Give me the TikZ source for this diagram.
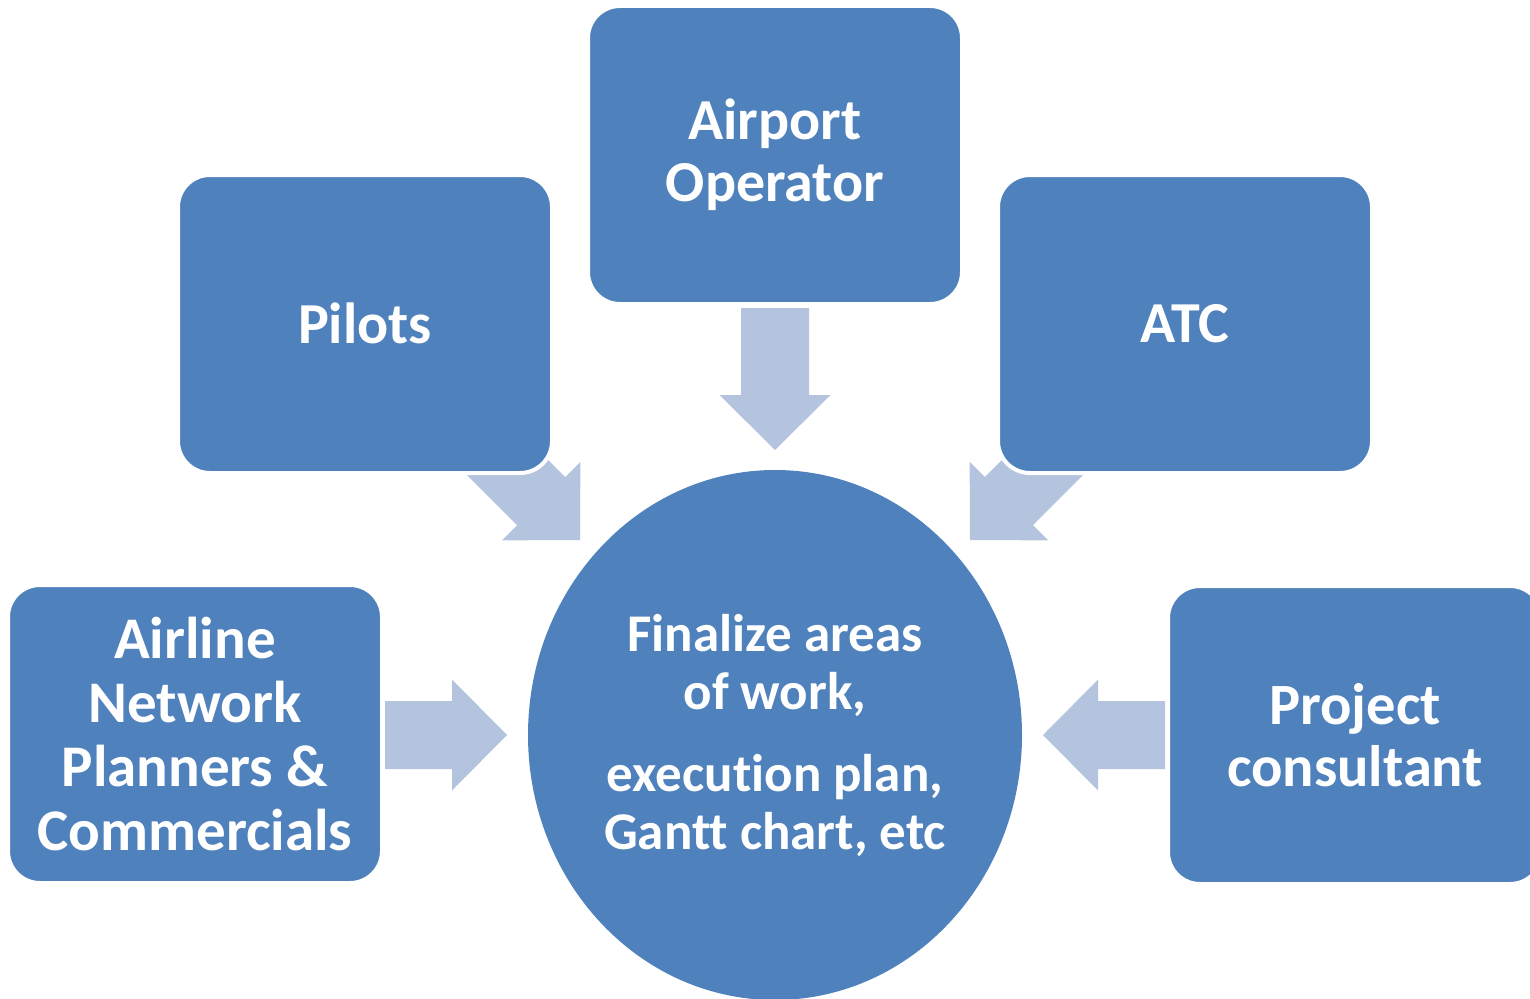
\documentclass[tikz,border=0pt]{standalone}
\usepackage{fontspec}
\setmainfont{Carlito}[Ligatures={NoCommon}]
\usetikzlibrary{shapes.geometric}
\definecolor{boxblue}{HTML}{4F81BD}
\definecolor{arrowblue}{HTML}{B4C3DE}
\tikzset{
  box/.style={draw=white, line width=4pt, fill=boxblue, rounded corners=32pt,
    minimum width=374pt, minimum height=298pt, inner sep=0pt, outer sep=0pt,
    text=white, align=center},
  hub/.style={shape=ellipse, fill=boxblue, minimum width=494pt, minimum height=530pt,
    inner sep=0pt, outer sep=0pt, text=white, align=center},
  blockfill/.style={fill=arrowblue},
}
\newcommand\blockarrow[3]{%
  \fill[blockfill, shift={(#1)}, rotate=#2]
    (0,-34) -- ({#3-55},-34) -- ({#3-55},-55.5) -- (#3,0) -- ({#3-55},55.5)
    -- ({#3-55},34) -- (0,34) -- cycle;}
\begin{document}
\begin{tikzpicture}[x=1pt,y=-1pt]
\useasboundingbox (0,0) rectangle (1530,998);
% arrow tails
\coordinate (tA) at (775,308);
\coordinate (tP) at (479.6,439.6);
\coordinate (tT) at (1070.4,439.6);
\coordinate (tL) at (385,735);
\coordinate (tR) at (1165,735);
\blockarrow{tA}{-90}{142}
\blockarrow{tP}{-45}{142}
\blockarrow{tT}{-135}{142}
\blockarrow{tL}{0}{122}
\blockarrow{tR}{180}{122}
% boxes
\node[box, font=\fontsize{58}{62}\selectfont\bfseries] (airport) at (775,155) {Airport\\Operator};
\node[box, font=\fontsize{58}{62}\selectfont\bfseries] (pilots) at (365,324) {\raisebox{2pt}{Pilots}};
\node[box, font=\fontsize{58}{62}\selectfont\bfseries] (atc) at (1185,324) {\raisebox{2pt}{ATC}};
\node[box, font=\fontsize{59}{64}\selectfont\bfseries] (airline) at (195,734) {Airline\\Network\\Planners \&\\Commercials};
\node[box, font=\fontsize{58.5}{62}\selectfont\bfseries] (consult) at (1355,735) {Project\\consultant};
% hub
\node[hub, font=\fontsize{53}{58}\selectfont\bfseries] (hub) at (775,735)
  {Finalize areas\\of work,\\[24pt]execution plan,\\Gantt chart, etc};
\end{tikzpicture}
\end{document}
